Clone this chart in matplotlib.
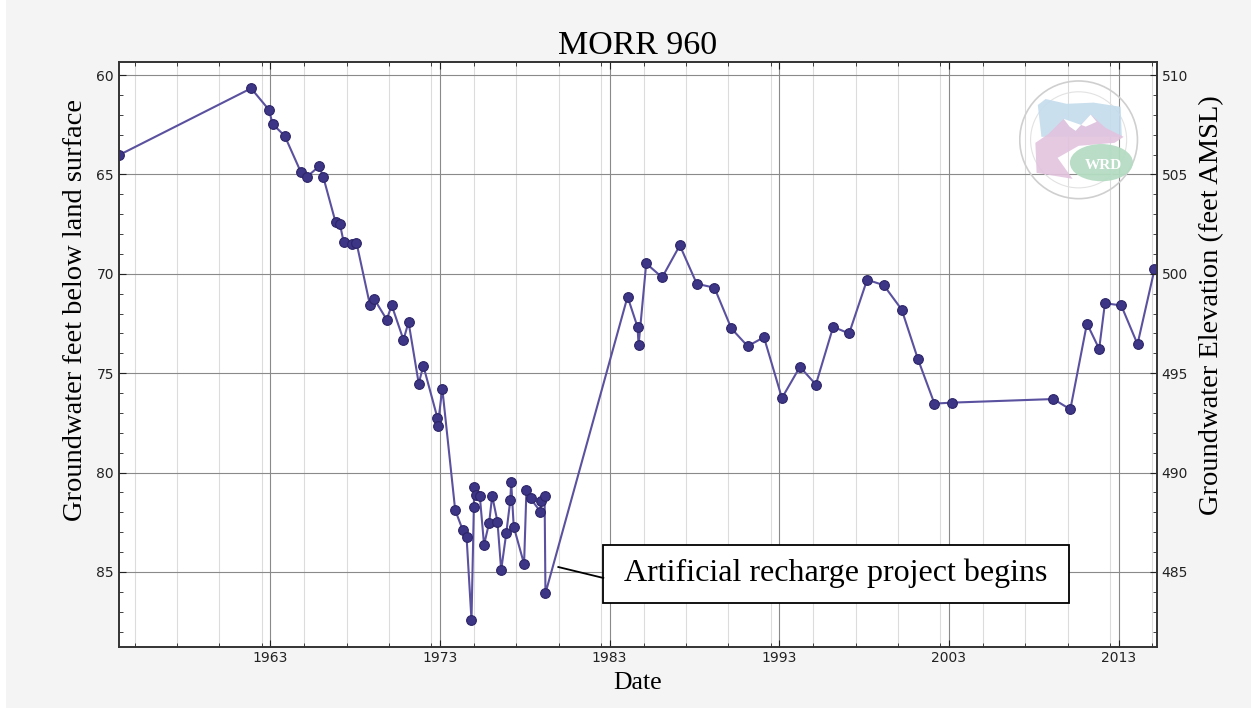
import numpy as np
import matplotlib.pyplot as plt
from matplotlib.patches import Circle, Polygon, Ellipse, Rectangle
from matplotlib.ticker import MultipleLocator, FixedLocator

# water level readings (decimal year, depth below land surface in ft)
years = [1954.1, 1961.87, 1962.92, 1963.14, 1963.85, 1964.81, 1965.16, 1965.88,
         1966.12, 1966.85, 1967.1, 1967.32, 1967.82, 1968.08, 1968.88, 1969.12,
         1969.86, 1970.16, 1970.85, 1971.15, 1971.75, 1972.02, 1972.85, 1972.87,
         1973.14, 1973.9, 1974.35, 1974.57, 1974.86, 1975.0, 1975.02, 1975.1,
         1975.35, 1975.6, 1975.9, 1976.08, 1976.39, 1976.61, 1976.91, 1977.15,
         1977.2, 1977.35, 1977.96, 1978.1, 1978.34, 1978.92, 1978.96, 1979.17,
         1979.22, 1984.06, 1984.65, 1984.71, 1985.16, 1986.1, 1987.14, 1988.14,
         1989.18, 1990.18, 1991.14, 1992.1, 1993.16, 1994.22, 1995.16, 1996.18,
         1997.12, 1998.18, 1999.16, 2000.22, 2001.18, 2002.15, 2003.19, 2009.16,
         2010.16, 2011.14, 2011.86, 2012.2, 2013.16, 2014.12, 2015.12]
depth = [64.02, 60.67, 61.75, 62.47, 63.06, 64.9, 65.12, 64.59,
         65.12, 67.41, 67.48, 68.38, 68.52, 68.43, 71.59, 71.26,
         72.3, 71.59, 73.32, 72.43, 75.52, 74.62, 77.24, 77.64,
         75.78, 81.89, 82.9, 83.24, 87.42, 81.71, 80.73, 81.12,
         81.17, 83.63, 82.53, 81.17, 82.46, 84.9, 83.05, 81.37,
         80.47, 82.72, 84.6, 80.86, 81.3, 81.96, 81.41, 81.17,
         86.07, 71.15, 72.68, 73.59, 69.48, 70.18, 68.57, 70.5,
         70.7, 72.75, 73.64, 73.19, 76.25, 74.68, 75.57, 72.67,
         73.0, 70.3, 70.57, 71.8, 74.3, 76.53, 76.48, 76.3,
         76.82, 72.5, 73.78, 71.48, 71.59, 73.54, 69.78]

land_surface = 570.0  # ft AMSL, so elevation = land_surface - depth
year_ticks = [1963, 1973, 1983, 1993, 2003, 2013]
note = 'Artificial recharge project begins'

plt.rcParams['font.family'] = 'DejaVu Sans'
serif = ['Liberation Serif', 'DejaVu Serif']

fig = plt.figure(figsize=(12.51, 7.08), dpi=100, facecolor='#f4f4f4')
# thin white strip along the left edge of the screenshot
fig.patches.append(Rectangle((0, 0), 6 / 1251, 1, transform=fig.transFigure,
                             facecolor='white', edgecolor='none'))
ax = fig.add_axes([0.0951, 0.0868, 0.8295, 0.8255])
ax.set_facecolor('white')

ax.plot(years, depth, color='#5a519f', linewidth=1.5, marker='o', markersize=7,
        markerfacecolor='#3d3585', markeredgecolor='#2c2668', markeredgewidth=0.8,
        zorder=3)

ax.set_xlim(1954.08, 2015.25)
ax.set_ylim(88.75, 59.35)

ax.xaxis.set_major_locator(FixedLocator(year_ticks))
ax.xaxis.set_minor_locator(MultipleLocator(2.5))
ax.set_xticklabels([str(y) for y in year_ticks])
ax.yaxis.set_major_locator(MultipleLocator(5))
ax.yaxis.set_minor_locator(MultipleLocator(1))

ax.grid(True, which='major', color='#8a8a8a', linewidth=0.8)
ax.grid(True, which='minor', axis='x', color='#dcdcdc', linewidth=0.8)
ax.set_axisbelow(True)

ax.tick_params(which='both', direction='in', top=True, labelsize=10, colors='#222222')
ax.tick_params(which='major', length=5)
ax.tick_params(which='minor', length=3)
for s in ax.spines.values():
    s.set_color('#333333')
    s.set_linewidth(1.2)

ax.set_title('MORR 960', fontsize=24.5, family=serif, pad=6)
ax.set_xlabel('Date', fontsize=18.5, family=serif, labelpad=5)
ax.set_ylabel('Groundwater feet below land surface', fontsize=20.5, family=serif, labelpad=6)
ax.yaxis.label.set_y(0.576)

# right axis: elevation
ax2 = ax.twinx()
lo, hi = ax.get_ylim()
ax2.set_ylim(land_surface - lo, land_surface - hi)
ax2.yaxis.set_major_locator(MultipleLocator(5))
ax2.yaxis.set_minor_locator(MultipleLocator(1))
ax2.tick_params(which='both', direction='in', labelsize=10, colors='#222222')
ax2.tick_params(which='major', length=5)
ax2.tick_params(which='minor', length=3)
ax2.set_ylabel('Groundwater Elevation (feet AMSL)', fontsize=20.5, family=serif, labelpad=8)
ax2.yaxis.label.set_y(0.585)
for s in ax2.spines.values():
    s.set_color('#333333')
    s.set_linewidth(1.2)

# annotation: box, text and leader line
ax.add_patch(Rectangle((1982.63, 83.64), 2010.1 - 1982.63, 86.56 - 83.64,
                       facecolor='white', edgecolor='black', linewidth=1.3, zorder=5))
ax.text(1996.33, 85.05, note, fontsize=23, family=serif, ha='center', va='center', zorder=6)
ax.plot([1979.98, 1982.63], [84.75, 85.3], color='black', linewidth=1.3, zorder=5)

# faint agency seal in upper right
lax = fig.add_axes([0.8142, 0.7175, 0.096, 0.17])
lax.set_xlim(-1, 1)
lax.set_ylim(-1, 1)
lax.set_aspect('equal')
lax.axis('off')
lax.add_patch(Circle((0, 0), 0.98, fill=False, edgecolor='#cfcfcf', linewidth=1.2))
lax.add_patch(Circle((0, 0), 0.8, fill=False, edgecolor='#e2e2e2', linewidth=0.8))
lax.add_patch(Polygon([(-0.68, 0.58), (-0.55, 0.68), (-0.2, 0.6), (0.25, 0.62), (0.7, 0.55),
                       (0.72, 0.05), (-0.62, 0.05)],
                      closed=True, facecolor='#c4dced', edgecolor='none', alpha=0.9))
lax.add_patch(Polygon([(-0.7, -0.55), (-0.72, -0.05), (-0.5, 0.1), (-0.25, 0.35), (-0.05, 0.15),
                       (0.2, 0.42), (0.45, 0.2), (0.75, 0.05), (0.6, -0.05), (0.0, -0.1),
                       (-0.35, -0.3), (-0.1, -0.65)],
                      closed=True, facecolor='#e2c3de', edgecolor='none', alpha=0.9))
lax.add_patch(Polygon([(-0.25, 0.35), (-0.15, 0.22), (-0.05, 0.15), (0.2, 0.42),
                       (0.3, 0.3), (0.12, 0.22)],
                      closed=True, facecolor='white', edgecolor='none'))
lax.add_patch(Ellipse((0.38, -0.38), 1.05, 0.62, facecolor='#b5dcc3', edgecolor='none', alpha=0.95))
lax.text(0.42, -0.42, 'WRD', color='white', fontsize=11, family=serif,
         fontweight='bold', ha='center', va='center')

fig.savefig('out.png', dpi=100, facecolor=fig.get_facecolor())
